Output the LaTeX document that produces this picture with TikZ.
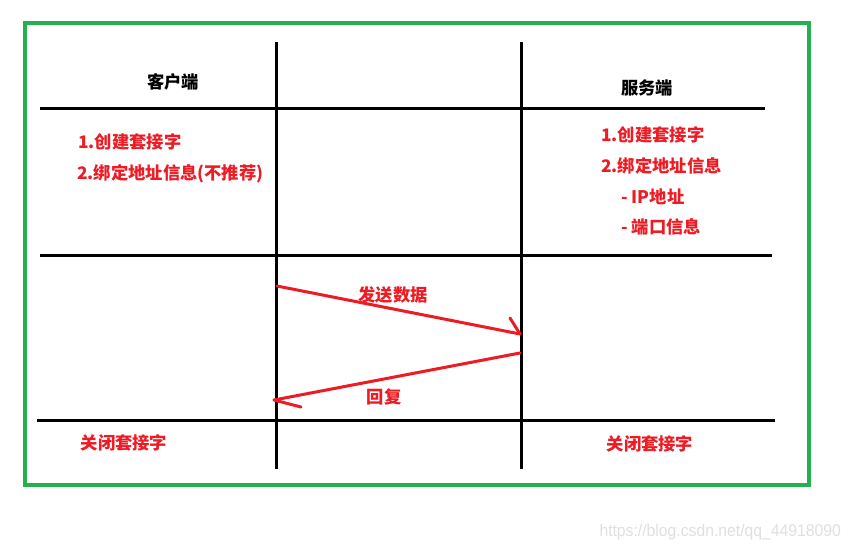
\documentclass[tikz,border=0pt]{standalone}
\usepackage{fontspec}
\setmainfont{Liberation Sans}
\newfontfamily\cjk{Noto Sans CJK SC}
\definecolor{frameg}{HTML}{22B14C}
\definecolor{paintred}{HTML}{ED1C24}
\begin{document}
\begin{tikzpicture}[x=1pt,y=-1pt,
  frame/.style={draw=frameg,line width=4pt},
  rule/.style={draw=black,line width=3pt},
  msg/.style={draw=paintred,line width=3pt},
  head/.style={font=\cjk\bfseries\fontsize{17.3}{19}\selectfont,text=black,inner sep=0pt},
  redtxt/.style={font=\cjk\bfseries\fontsize{17.3}{19}\selectfont,text=paintred,inner sep=0pt,anchor=west},
  redc/.style={font=\cjk\bfseries\fontsize{17.3}{19}\selectfont,text=paintred,inner sep=0pt},
  wm/.style={font=\fontsize{17}{19}\selectfont,text=black!12,inner sep=0pt,xscale=0.925}]
\useasboundingbox (0,0) rectangle (851,551);
\fill[white] (0,0) rectangle (851,551);
\draw[frame] (25,23) rectangle (809,485);
% grid
\draw[rule] (276,42) -- (276,469);
\draw[rule] (521,42) -- (521,469);
\draw[rule] (40,108) -- (765,108);
\draw[rule] (40,255) -- (772,255);
\draw[rule] (37,420) -- (775,420);
% headers
\node[head] (client) at (173,82) {客户端};
\node[head] (server) at (647,88) {服务端};
% client steps
\node[redtxt] (c1) at (78,142) {1.创建套接字};
\node[redtxt] (c2) at (77,174) {2.绑定地址信息(不推荐)};
% server steps
\node[redtxt] (s1) at (601,135) {1.创建套接字};
\node[redtxt] (s2) at (601,166) {2.绑定地址信息};
\node[redtxt] (s3) at (621,197) {- IP地址};
\node[redtxt] (s4) at (621,227) {- 端口信息};
% messages
\coordinate (sendA) at (277,286);
\coordinate (sendB) at (520,334);
\coordinate (sendH) at (510,318);
\coordinate (repA) at (520,353);
\coordinate (repB) at (274,400);
\coordinate (repH) at (301,407);
\draw[msg,line cap=round] (sendA) -- (sendB);
\draw[msg,line cap=round] (sendH) -- (sendB);
\draw[msg,line cap=round] (repA) -- (repB);
\draw[msg,line cap=round] (repB) -- (repH);
\node[redc] (sendL) at (393,295) {发送数据};
\node[redc] (repL) at (384,397) {回复};
% close
\node[redc] (cclose) at (124,443) {关闭套接字};
\node[redc] (sclose) at (650,444) {关闭套接字};
% watermark
\node[wm,anchor=east] (mark) at (841,532) {https://blog.csdn.net/qq\_44918090};
\end{tikzpicture}
\end{document}
